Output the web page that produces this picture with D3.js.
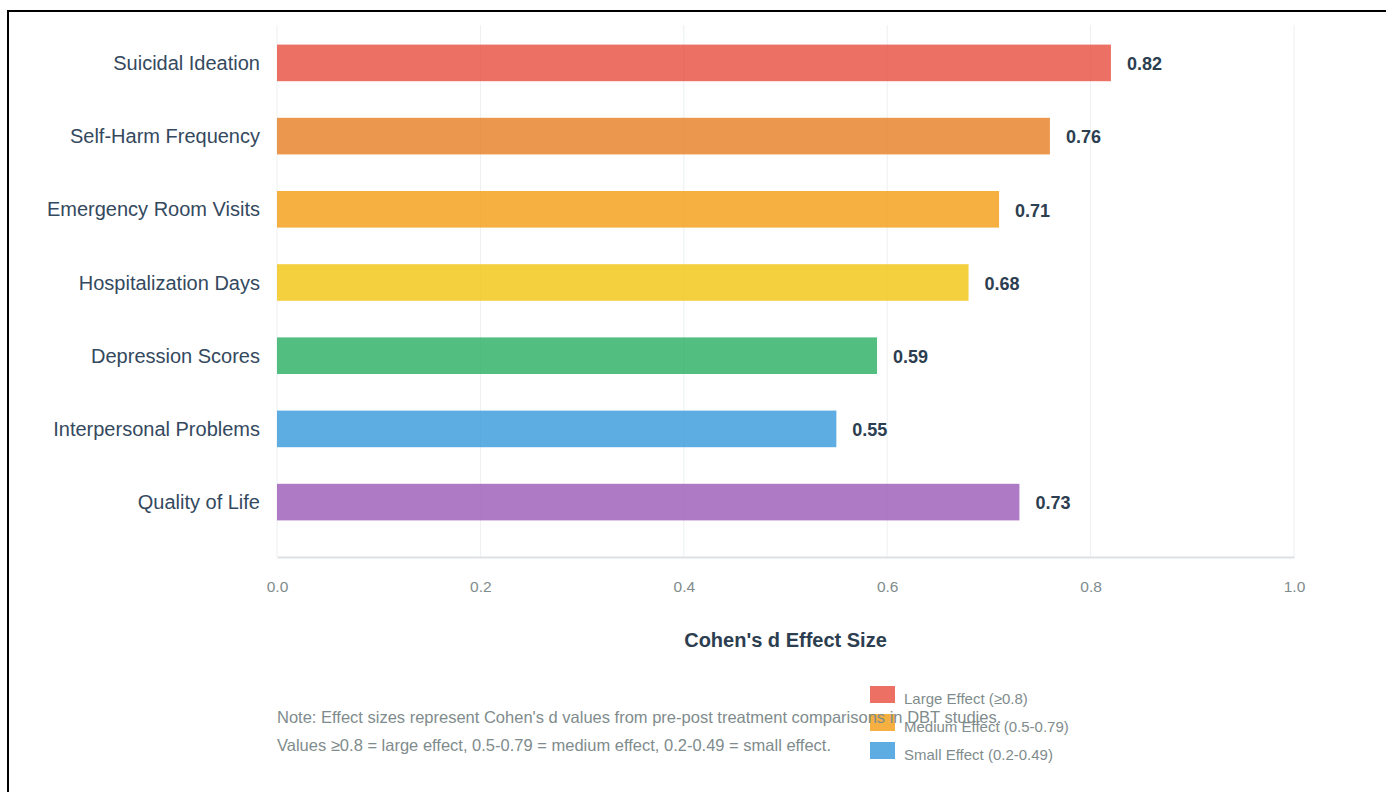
<!DOCTYPE html>
<html>
<head>
<meta charset="utf-8">
<script src="https://cdn.jsdelivr.net/npm/d3@7"></script>
<style>
	body { margin: 0; background: #fff; overflow: hidden; }
	#frame { position: absolute; left: 7px; top: 10px; width: 1500px; height: 900px;
		border-left: 2px solid #000; border-top: 2px solid #000; }
	svg { position: absolute; left: 0; top: 0; font-family: "Liberation Sans", Arial, sans-serif; }
</style>
</head>
<body>
<div id="frame"></div>
<div id="chart"></div>
<script>
const categories = ['Suicidal Ideation', 'Self-Harm Frequency', 'Emergency Room Visits',
	'Hospitalization Days', 'Depression Scores', 'Interpersonal Problems', 'Quality of Life'];
const effectSizes = [0.82, 0.76, 0.71, 0.68, 0.59, 0.55, 0.73];
const barColors = ['#e74c3c', '#e67e22', '#f39c12', '#f1c40f', '#27ae60', '#3498db', '#9b59b6'];
const xTicks = [0, 0.2, 0.4, 0.6, 0.8, 1.0];
const legendLabels = ['Large Effect (≥0.8)', 'Medium Effect (0.5-0.79)', 'Small Effect (0.2-0.49)'];
const legendColors = ['#e74c3c', '#f39c12', '#3498db'];
const noteLines = [
	"Note: Effect sizes represent Cohen's d values from pre-post treatment comparisons in DBT studies.",
	'Values ≥0.8 = large effect, 0.5-0.79 = medium effect, 0.2-0.49 = small effect.'
];

const MARGIN = { top: 8, left: 277 };
const WIDTH = 1017;
const HEIGHT = 549;
const GRID_TOP = 25;

const svg = d3.select('#chart')
	.append('svg')
		.attr('width', 1386)
		.attr('height', 792);

const g = svg.append('g')
	.attr('transform', `translate(${MARGIN.left}, ${MARGIN.top})`);

const x = d3.scaleLinear()
	.domain([0, 1])
	.range([0, WIDTH]);

const y = d3.scaleBand()
	.domain(categories)
	.range([0, HEIGHT])
	.padding(0.5);

// grid
g.selectAll('.grid')
	.data(xTicks)
	.enter()
	.append('line')
		.attr('x1', d => x(d))
		.attr('x2', d => x(d))
		.attr('y1', GRID_TOP - MARGIN.top)
		.attr('y2', HEIGHT)
		.attr('stroke', '#ecf0f1')
		.attr('stroke-width', 1);

// x axis
const xAxis = g.append('g')
	.attr('transform', `translate(0, ${HEIGHT})`)
	.call(d3.axisBottom(x).tickValues(xTicks).tickFormat(d3.format('.1f')).tickSize(0).tickPadding(24));
xAxis.select('.domain')
	.attr('stroke', '#dde1e3')
	.attr('stroke-width', 2);
xAxis.selectAll('text')
	.attr('fill', '#7f8c8d')
	.attr('font-size', 15.5)
	.attr('font-family', '"Liberation Sans", Arial, sans-serif');

// y labels
g.selectAll('.cat')
	.data(categories)
	.enter()
	.append('text')
		.attr('x', -17)
		.attr('y', d => y(d) + y.bandwidth() / 2)
		.attr('dy', '0.35em')
		.attr('text-anchor', 'end')
		.attr('font-size', 20)
		.attr('fill', '#34495e')
		.text(d => d);

// bars
g.selectAll('.bar')
	.data(categories)
	.enter()
	.append('rect')
		.attr('x', 0)
		.attr('y', d => y(d))
		.attr('width', (d, i) => x(effectSizes[i]))
		.attr('height', y.bandwidth())
		.attr('fill', (d, i) => barColors[i])
		.attr('fill-opacity', 0.8);

// value labels
g.selectAll('.val')
	.data(categories)
	.enter()
	.append('text')
		.attr('x', (d, i) => x(effectSizes[i]) + 16)
		.attr('y', d => y(d) + y.bandwidth() / 2)
		.attr('dy', '0.4em')
		.attr('font-size', 18)
		.attr('font-weight', 'bold')
		.attr('fill', '#2c3e50')
		.text((d, i) => effectSizes[i].toFixed(2));

// axis title
svg.append('text')
	.attr('x', MARGIN.left + WIDTH / 2)
	.attr('y', 647)
	.attr('text-anchor', 'middle')
	.attr('font-size', 20)
	.attr('font-weight', 'bold')
	.attr('fill', '#2c3e50')
	.text("Cohen's d Effect Size");

// legend
const legend = svg.append('g')
	.attr('transform', 'translate(870, 686)');
legendLabels.forEach((label, i) => {
	legend.append('rect')
		.attr('x', 0)
		.attr('y', i * 28)
		.attr('width', 25)
		.attr('height', 17)
		.attr('fill', legendColors[i])
		.attr('fill-opacity', 0.8);
	legend.append('text')
		.attr('x', 34)
		.attr('y', i * 28 + 18)
		.attr('font-size', 15)
		.attr('fill', '#7f8c8d')
		.text(label);
});

// note
noteLines.forEach((line, i) => {
	svg.append('text')
		.attr('x', MARGIN.left)
		.attr('y', 723 + i * 28)
		.attr('font-size', 16.5)
		.attr('fill', '#7f8c8d')
		.text(line);
});
</script>
</body>
</html>
